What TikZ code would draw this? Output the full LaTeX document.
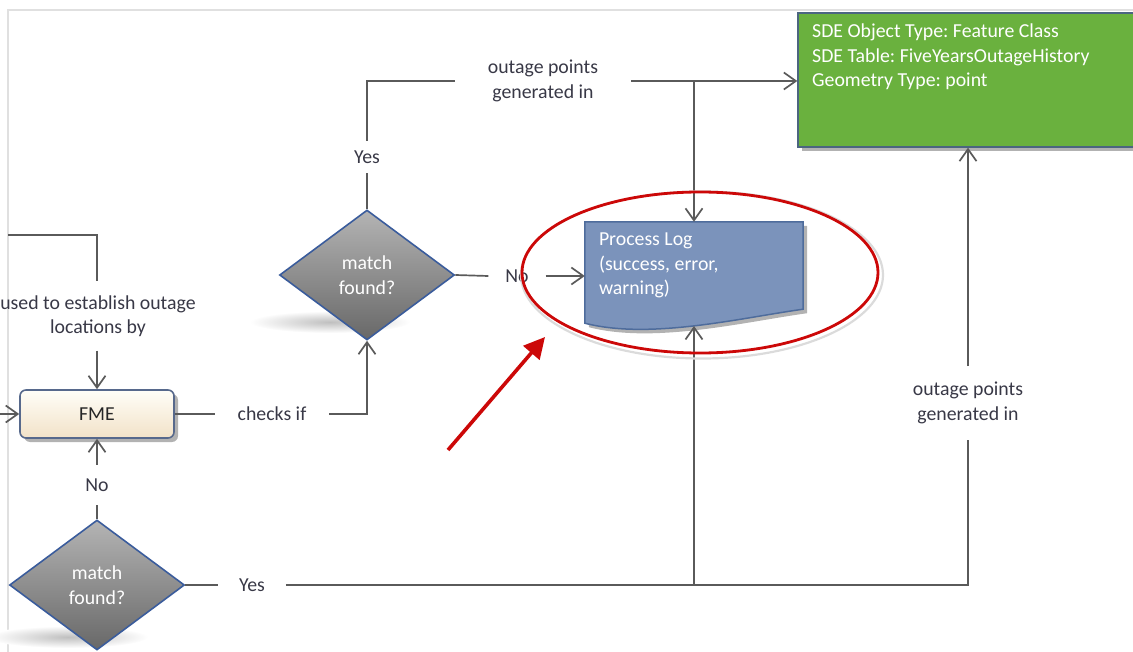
\documentclass[tikz,border=0pt]{standalone}
\usepackage{fontspec}
\setmainfont{Carlito}
\frenchspacing
\usetikzlibrary{arrows.meta,shapes.geometric,shadows,calc,backgrounds}
\definecolor{conncol}{HTML}{5A5A5A}
\definecolor{txtcol}{HTML}{383846}
\definecolor{sdegreen}{HTML}{6AB13E}
\definecolor{sdeborder}{HTML}{4B6580}
\definecolor{logblue}{HTML}{7B93BB}
\definecolor{logborder}{HTML}{4E6C9C}
\definecolor{diaborder}{HTML}{3A5C9C}
\definecolor{diatop}{HTML}{B4B4B4}
\definecolor{diabot}{HTML}{686868}
\definecolor{fmetop}{HTML}{FFFEF8}
\definecolor{fmebot}{HTML}{F2E2C8}
\definecolor{fmeborder}{HTML}{57698C}
\definecolor{hlred}{HTML}{CC0808}
\definecolor{framegray}{HTML}{E0E0E0}
\begin{document}
\begin{tikzpicture}[x=1pt,y=-1pt,
  font=\fontsize{19.8}{24.5}\selectfont,
  conn/.style={draw=conncol, line width=1.7pt},
  arr/.style={conn, -{Straight Barb[length=12pt,width=17pt,line width=1.7pt]}},
  lbl/.style={text=txtcol, align=center, inner sep=0pt},
  dia/.style={diamond, draw=diaborder, line width=1.6pt, top color=diatop, bottom color=diabot,
    minimum width=175pt, minimum height=130pt, inner sep=0pt, text=white, align=center},
  dshadow/.style={inner color=black!25, outer color=white},
  boxshadow/.style={drop shadow={shadow xshift=4pt, shadow yshift=-4pt, opacity=0.3, fill=black}},
  hlarrow/.style={draw=hlred, line width=3.6pt, -{Triangle[length=21pt,width=21pt]}}
]
\useasboundingbox (0,0) rectangle (1133,652);
\clip (0,0) rectangle (1133,652);
% frame of the screenshot
\draw[framegray, line width=1.6pt] (8,652) -- (8,10) -- (1133,10);

% diamond shadows
\shade[dshadow] (330,322) ellipse (80 and 11);
\shade[dshadow] (68,637) ellipse (80 and 11);

% SDE feature class box
\node[draw=sdeborder, line width=1.4pt, fill=sdegreen, boxshadow,
      minimum width=340pt, minimum height=134pt, inner sep=0pt] (sde) at (968,80) {};
\node[anchor=north west, text=white, align=left, inner sep=0pt] (sdetxt) at (812,24)
  {SDE Object Type: Feature Class\\SDE Table: FiveYearsOutageHistory\\Geometry Type: point};

% process log (document shape)
\node[text=white, align=flush left, text width=190pt, inner xsep=14pt, inner ysep=0pt,
      minimum height=87pt] (log) at (694,265.5)
  {Process Log\\(success, error,\\warning)};
\begin{scope}[on background layer]
\path[fill=logblue, draw=logborder, line width=1.5pt, boxshadow]
  (log.north west) -- (log.north east) -- (log.south east)
  .. controls (740,318) and (650,340) .. ($(log.south west)+(0,14)$) -- cycle;
\end{scope}
\coordinate (logb) at (694,326);

% decisions
\node[dia] (d2) at (367,275) {match\\found?};
\node[dia] (d1) at (97,585) {match\\found?};

% FME
\node[draw=fmeborder, line width=1.6pt, rounded corners=6pt, top color=fmetop, bottom color=fmebot,
      boxshadow, minimum width=154pt, minimum height=48pt, text=black!85] (fme) at (97,414) {FME};

% labels
\node[lbl, outer ysep=10pt] (yes1) at (367,157) {Yes};
\node[lbl, outer xsep=33pt] (op1) at (543,81) {outage points\\generated in};
\node[lbl, outer xsep=17pt] (no2) at (517,276) {No};
\node[lbl, outer ysep=14pt] (use) at (98,316) {used to establish outage\\locations by};
\node[lbl, outer xsep=23pt] (chk) at (272,414) {checks if};
\node[lbl, outer ysep=14pt] (no1) at (97,485) {No};
\node[lbl, outer xsep=21pt] (yes2) at (252,585) {Yes};
\node[lbl, outer ysep=16pt] (op2) at (968,403) {outage points\\generated in};

\coordinate (tl) at (8,235);
\coordinate (lf) at (0,414);

% connectors
\draw[conn] (d2.north) -- (yes1.south);
\draw[conn] (yes1.north) |- (op1.west);
\draw[arr] (op1.east) -- (sde.west |- op1.east);
\draw[arr] (log.north |- op1.east) -- (log.north);
\draw[conn] (d2.east) -- (no2.west);
\draw[arr] (no2.east) -- (log.west |- no2.east);
\draw[conn] (tl) -| (fme.north |- use.north);
\draw[arr] (fme.north |- use.south) -- (fme.north);
\draw[arr] (lf) -- (fme.west);
\draw[conn] (fme.east) -- (chk.west);
\draw[arr] (chk.east) -| (d2.south);
\draw[conn] (d1.north) -- (no1.south);
\draw[arr] (no1.north) -- (fme.south);
\draw[conn] (d1.east) -- (yes2.west);
\draw[conn] (yes2.east) -| (op2.south);
\draw[arr] (log.south |- yes2.east) -- (logb);
\draw[arr] (op2.north) -- (op2.north |- sde.south);

% highlight
\node[ellipse, draw=black!14, line width=2.2pt, minimum width=362pt, minimum height=167pt, inner sep=0pt]
  (hlshadow) at (702,275) {};
\node[ellipse, draw=hlred, line width=2.8pt, minimum width=356pt, minimum height=161pt, inner sep=0pt]
  (hl) at (700,272.5) {};
\coordinate (rtail) at (448,450);
\coordinate (rhead) at (545,337);
\draw[hlarrow] (rtail) -- (rhead);
\end{tikzpicture}
\end{document}
